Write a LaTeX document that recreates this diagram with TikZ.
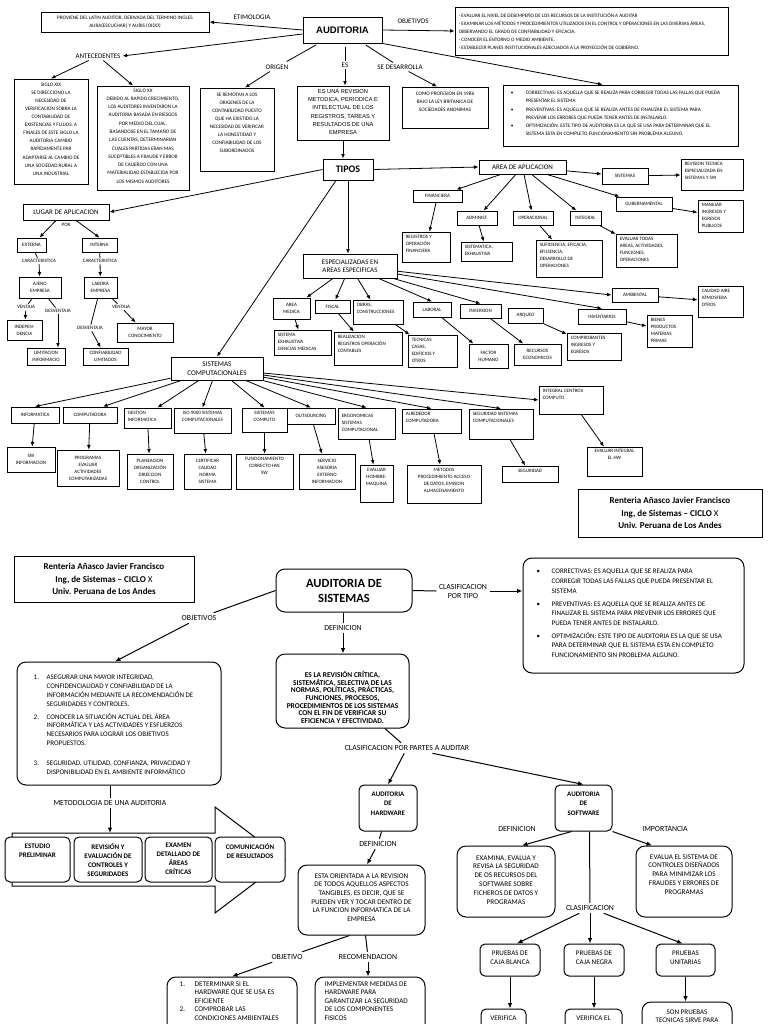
\documentclass[tikz,border=0pt]{standalone}
\usepackage{fontspec}
\setmainfont{Carlito}
\newfontfamily\arialf{Liberation Sans}
\usetikzlibrary{arrows.meta}
\newcommand\fsz[2]{\fontsize{#1}{#2}\selectfont}
\newcommand\bx[9]{%
  \node[#6, minimum width={(#4-#2)*1pt}, minimum height={(#5-#3)*1pt}] (#1) at ({(#2+#4)/2},{(#3+#5)/2}) {};
  \node[anchor=#7, pad #7, #8] (#1t) at (#1.#7) {#9};}
\newcommand\itm[2]{\makebox[#1][l]{#2}}
\tikzset{
  bx/.style={draw, line width=0.9pt, inner sep=0pt, fill=white},
  rbx/.style={draw, line width=1pt, rounded corners=9pt, inner sep=0pt, fill=white},
  rbs/.style={draw, line width=1pt, rounded corners=5pt, inner sep=0pt, fill=white},
  pad north/.style={yshift=-4pt},
  pad north west/.style={xshift=4pt, yshift=-4pt},
  pad center/.style={},
  tx/.style={inner sep=0pt, align=center, font=\fsz{5.2}{8.2}},
  txl/.style={inner sep=0pt, align=left, font=\fsz{5.2}{8.2}},
  ts/.style={inner sep=0pt, align=center, font=\fsz{5}{7}},
  tsl/.style={inner sep=0pt, align=left, font=\fsz{5}{7}},
  tm/.style={inner sep=0pt, align=center, font=\fsz{7}{8.5}},
  lt/.style={inner sep=2pt, font=\fsz{7}{8}},
  ls/.style={inner sep=1.5pt, font=\fsz{5}{6}},
  lb/.style={inner sep=2.5pt, align=center, font=\fsz{7.8}{9}},
  bt/.style={inner sep=0pt, align=center, font=\fsz{7.2}{8.8}},
  btl/.style={inner sep=0pt, align=left, font=\fsz{7.2}{8.8}},
  btb/.style={inner sep=0pt, align=center, font=\bfseries\fsz{7.2}{9}},
  authf/.style={inner sep=0pt, align=center, font=\bfseries\fsz{9}{12.5}},
  arr/.style={line width=0.8pt, -{Latex[length=4.5pt,width=3.8pt]}},
  arrb/.style={line width=1pt, -{Latex[length=5.5pt,width=4.5pt]}},
  ln/.style={line width=0.8pt},
  lnb/.style={line width=1pt},
}
\begin{document}
\begin{tikzpicture}[x=1pt,y=-1pt]
\useasboundingbox (0,0) rectangle (768,1024);
\fill[white] (0,0) rectangle (768,1024);
\clip (0,0) rectangle (768,1024);

% ================= TOP MAP =================
\bx{aud}{303}{17}{382}{43}{bx}{center}{inner sep=0pt, font=\arialf\bfseries\fsz{9.5}{11}}{AUDITORIA}
\bx{prov}{41}{12}{209}{32}{bx}{center}{tx, font=\fsz{5.2}{8}}{PROVIENE DEL LATIN AUDITOR, DERIVADA DEL TERMINO INGLES\\AURA(ESCUCHAR) Y AURIS (OIDO)}
\bx{obj}{455}{7}{728}{55}{bx}{north west}{txl, yshift=-2.3pt, font=\fsz{5.1}{8}}{- EVALUAR EL NIVEL DE DESEMPEÑO DE LOS RECURSOS DE LA INSTITUCIÓN A AUDITAR\\- EXAMINAR LOS MÉTODOS Y PROCEDIMIENTOS UTILIZADOS EN EL CONTROL Y OPERACIONES EN LAS DIVERSAS ÁREAS,\\OBSERVANDO EL GRADO DE CONFIABILIDAD Y EFICACIA.\\- CONOCER EL ENTORNO O MEDIO AMBIENTE.\\- ESTABLECER PLANES INSTITUCIONALES ADECUADOS A LA PROYECCIÓN DE GOBIERNO.}
\bx{xix}{14}{79}{88}{184}{bx}{north}{tx, font=\fsz{5.2}{8.1}}{SIGLO XIX\\SE DIRECCIONO LA\\NECESIDAD DE\\VERIFICACION SOBRA LA\\CONTABILIDAD DE\\EXISTENCIAS Y FLUJOS. A\\FINALES DE ESTE SIGLO LA\\AUDITORIA CAMBIO\\RAPIDAMENTE PAR\\ADAPTARSE AL CAMBIO DE\\UNA SOCIEDAD RURAL A\\UNA INDUSTRIAL}
\bx{xx}{97}{86}{189}{190}{bx}{north}{tx, yshift=1pt, font=\fsz{5.2}{8.27}}{SIGLO XX\\DEBIDO AL RAPIDO CRECIMIENTO,\\LOS AUDITORES INVENTARON LA\\AUDITORIA BASADA EN RIESGOS\\POR MEDIO DEL CUAL,\\BASANDOSE EN EL TAMAÑO DE\\LAS CUENTAS, DETERMINARIAN\\CUALES PARTIDAS ERAN MAS\\SUCEPTIBLES A FRAUDE Y ERROR\\DE CAUERDO CON UNA\\MATERIALIDAD ESTABLECIDA POR\\LOS MISMOS AUDITORES}
\bx{orig}{200}{88}{274}{171}{bx}{north}{tx, yshift=-1.3pt, font=\fsz{5.2}{8}}{SE REMOTAN A LOS\\ORIGENES DE LA\\CONTABILIDAD PUESTO\\QUE HA EXISTIDO LA\\NECESIDAD DE VERIFICAR\\LA HONESTIDAD Y\\CONFIABILIDAD DE LOS\\SUBORDINADOS}
\bx{esb}{297}{86}{389}{140}{bx}{north}{tx, yshift=0pt, font=\arialf\fsz{5.7}{8.1}}{ES UNA REVISION\\METODICA, PERIODICA E\\INTELECTUAL DE LOS\\REGISTROS, TAREAS Y\\RESULTADOS DE UNA\\EMPRESA}
\bx{des}{402}{87}{488}{128}{bx}{north}{tx, yshift=-1.6pt, font=\fsz{5.2}{7.9}}{COMO PROFESION EN 1986\\BAJO LA LEY BRITANICA DE\\SOCIEDADES ANONIMAS}
\bx{cor}{503}{85}{738}{146}{bx}{north west}{txl, xshift=4pt, yshift=-2.6pt, font=\fsz{5.2}{8.2}}{\itm{15pt}{\textbullet}CORRECTIVAS: ES AQUELLA QUE SE REALIZA PARA CORREGIR TODAS LAS FALLAS QUE PUEDA\\\hspace*{15pt}PRESENTAR EL SISTEMA\\\itm{15pt}{\textbullet}PREVENTIVAS: ES AQUELLA QUE SE REALIZA ANTES DE FINALIZAR EL SISTEMA PARA\\\hspace*{15pt}PREVENIR LOS ERRORES QUE PUEDA TENER ANTES DE INSTALARLO.\\\itm{15pt}{\textbullet}OPTIMIZACIÓN: ESTE TIPO DE AUDITORIA ES LA QUE SE USA PARA DETERMINAR QUE EL\\\hspace*{15pt}SISTEMA ESTA EN COMPLETO FUNCIONAMIENTO SIN PROBLEMA ALGUNO.}
\bx{tipos}{323}{159}{373}{180}{bx}{center}{inner sep=0pt, font=\bfseries\fsz{10}{11}}{TIPOS}
\bx{lugar}{23}{204}{109}{220}{bx}{center}{tm}{LUGAR DE APLICACION}
\bx{area}{479}{160}{566}{174}{bx}{center}{tm}{AREA DE APLICACION}
\bx{espe}{303}{254}{397}{278}{bx}{center}{tm, font=\fsz{7}{8.4}}{ESPECIALIZADAS EN\\AREAS ESPECIFICAS}
\bx{sisc}{171}{357}{263}{380}{bx}{center}{tm, font=\fsz{7.2}{8.6}}{SISTEMAS\\COMPUTACIONALES}

% lugar subtree
\bx{ext}{17}{238}{46}{252}{bx}{center}{ts}{EXTERNA}
\bx{int}{82}{238}{117}{252}{bx}{center}{ts}{INTERNA}
\bx{ajeno}{19}{277}{61}{298}{bx}{center}{ts}{AJENO\\EMPRESA}
\bx{labora}{84}{277}{117}{298}{bx}{center}{ts}{LABORA\\EMPRESA}
\bx{indep}{7}{320}{42}{340}{bx}{center}{ts}{INDEPEN-\\DENCIA}
\bx{limit}{27}{348}{65}{365}{bx}{center}{ts}{LIMITACION\\INFORMACIO}
\bx{confl}{83}{348}{128}{365}{bx}{center}{ts}{CONFIABILIDAD\\LIMITADOS}
\bx{mayor}{117}{323}{173}{342}{bx}{center}{ts}{MAYOR\\CONOCIMIENTO}

% area subtree
\bx{fin}{413}{190}{462}{202}{bx}{center}{ts}{FINANCIERA}
\bx{reg}{402}{232}{450}{262}{bx}{north west}{tsl}{REGISTROS Y\\OPERACIÓN\\FINANCIERA}
\bx{adm}{457}{211}{497}{225}{bx}{center}{ts}{ADMINIST.}
\bx{sist}{461}{242}{512}{261}{bx}{north west}{tsl}{SISTEMATICA,\\EXHAUSTIVA}
\bx{oper}{513}{211}{553}{225}{bx}{center}{ts}{OPERACIONAL}
\bx{sufi}{536}{240}{602}{277}{bx}{north west}{tsl}{SUFICIENCIA, EFICACIA,\\EFICIENCIA,\\DESARROLLO DE\\OPERACIONES}
\bx{integ}{570}{211}{601}{225}{bx}{center}{ts}{INTEGRAL}
\bx{evtod}{616}{234}{677}{267}{bx}{north west}{tsl}{EVALUAR TODAS\\AREAS, ACTIVIDADES,\\FUNCIONES,\\OPERACIONES}
\bx{sisa}{602}{168}{648}{184}{bx}{center}{ts}{SISTEMAS}
\bx{revt}{681}{159}{743}{190}{bx}{north west}{tsl}{REVISION TECNICA\\ESPECIALIZADA EN\\SISTEMAS Y SW}
\bx{gub}{616}{197}{672}{211}{bx}{center}{ts}{GUBERNAMENTAL}
\bx{manej}{698}{200}{743}{232}{bx}{north west}{tsl}{MANEJAR\\INGRESOS Y\\EGRESOS\\PUBLICOS}

% especializadas subtree
\bx{amed}{273}{298}{310}{319}{bx}{center}{ts}{AREA\\MEDICA}
\bx{sexh}{274}{330}{331}{355}{bx}{north west}{tsl}{SISTEMA\\EXHAUSTIVA\\CIENCIAS MEDICAS}
\bx{fisc}{315}{300}{350}{313}{bx}{center}{ts}{FISCAL}
\bx{reali}{334}{332}{402}{365}{bx}{north west}{tsl}{REALIZACION\\REGISTROS OPERACIÓN\\CONTABLES}
\bx{obras}{353}{300}{403}{324}{bx}{north west}{tsl}{OBRAS,\\CONSTRUCCIONES}
\bx{tecn}{408}{335}{457}{367}{bx}{north west}{tsl}{TECNICAS\\CASAS,\\EDIFICIOS Y\\OTROS}
\bx{labo}{413}{302}{451}{317}{bx}{center}{ts}{LABORAL}
\bx{fact}{469}{344}{508}{368}{bx}{center}{ts}{FACTOR\\HUMANO}
\bx{inve}{460}{304}{501}{318}{bx}{center}{ts}{INVERSION}
\bx{recu}{514}{344}{561}{365}{bx}{center}{ts}{RECURSOS\\ECONOMICOS}
\bx{arqu}{508}{308}{543}{323}{bx}{center}{ts}{ARQUEO}
\bx{comp}{567}{333}{621}{360}{bx}{north west}{tsl}{COMPROBANTES\\INGRESOS Y\\EGRESOS}
\bx{inven}{578}{309}{626}{324}{bx}{center}{ts}{INVENTARIOS}
\bx{bien}{647}{315}{692}{347}{bx}{north west}{tsl}{BIENES\\PRODUCTOS\\MATERIAS\\PRIMAS}
\bx{ambi}{612}{288}{658}{302}{bx}{center}{ts}{AMBIENTAL}
\bx{cali}{698}{286}{743}{317}{bx}{north west}{tsl}{CALIDAD AIRE\\ATMOSFERA\\OTROS}

% sistemas computacionales subtree
\bx{sinf}{11}{407}{59}{423}{bx}{center}{ts}{INFORMATICA}
\bx{swinf}{7}{447}{55}{472}{bx}{center}{ts}{SW\\INFORMACION}
\bx{scomp}{63}{407}{117}{423}{bx}{center}{ts}{COMPUTADORA}
\bx{prog}{57}{450}{119}{486}{bx}{center}{ts}{PROGRAMAS\\EVALUAR\\ACTIVIDADES\\COMPUTARIZADAS}
\bx{gest}{124}{408}{171}{428}{bx}{north west}{tsl}{GESTION\\INFORMATICA}
\bx{plan}{127}{454}{173}{489}{bx}{center}{ts}{PLANEACION\\ORGANIZACIÓN\\DIRECCION\\CONTROL}
\bx{iso}{174}{408}{231}{433}{bx}{north}{ts}{ISO 9000 SISTEMAS\\COMPUTACIONALES}
\bx{cert}{184}{454}{231}{489}{bx}{center}{ts}{CERTIFICAR\\CALIDAD\\NORMA\\SISTEMA}
\bx{scmp}{242}{408}{287}{432}{bx}{north}{ts}{SISTEMAS\\COMPUTO}
\bx{func}{236}{454}{293}{489}{bx}{north}{ts}{FUNCIONAMIENTO\\CORRECTO HW,\\SW}
\bx{outs}{287}{408}{335}{424}{bx}{center}{ts}{OUTSOURCING}
\bx{serv}{299}{454}{355}{489}{bx}{center}{ts}{SERVICIO\\ASESORIA\\EXTERNO\\INFORMACION}
\bx{ergo}{338}{408}{395}{439}{bx}{north west}{tsl, yshift=-3pt}{ERGONOMICAS\\SISTEMAS\\COMPUTACIONAL}
\bx{evhm}{360}{465}{393}{502}{bx}{north}{ts}{EVALUAR\\HOMBRE-\\MAQUINA}
\bx{alre}{402}{409}{461}{433}{bx}{north west}{tsl}{ALREDEDOR\\COMPUTADORA}
\bx{meto}{407}{465}{481}{503}{bx}{north}{ts}{METODOS\\PROCEDIMIENTO ACCESO\\DE DATOS, EMISION\\ALMACENAMIENTO}
\bx{segs}{469}{409}{533}{439}{bx}{north west}{tsl}{SEGURIDAD SISTEMAS\\COMPUTACIONALES}
\bx{segu}{502}{466}{558}{482}{bx}{north}{ts}{SEGURIDAD}
\bx{intc}{539}{386}{603}{414}{bx}{north west}{tsl}{INTEGRAL CENTROS\\COMPUTO}
\bx{evint}{587}{447}{642}{476}{bx}{north}{ts, yshift=1pt}{EVALUAR INTEGRAL\\EL HW}

\bx{auth1}{578}{489}{762}{537}{bx}{center}{authf}{Renteria Añasco Javier Francisco\\Ing, de Sistemas – CICLO {\mdseries X}\\Univ. Peruana de Los Andes}

% top labels
\node[lt] (etlbl) at (252,17) {ETIMOLOGIA};
\node[lt] (antlbl) at (98,56) {ANTECEDENTES};
\node[lt] (objlbl) at (413,21) {OBJETIVOS};
\node[lt] (origlbl) at (277,67) {ORIGEN};
\node[lt] (eslbl) at (345,65) {ES};
\node[lt] (deslbl) at (400,67) {SE DESARROLLA};
\node[ls] (por) at (66,225) {POR};
\node[ls] (car1) at (39,261) {CARACTERISTICA};
\node[ls] (car2) at (100,261) {CARACTERISTICA};
\node[ls] (ven1) at (26,307) {VENTAJA};
\node[ls] (des1) at (58,311) {DESVENTAJA};
\node[ls] (des2) at (90,328) {DESVENTAJA};
\node[ls] (ven2) at (121,307) {VENTAJA};

% top connectors
\draw[arr] (aud.west) -- (prov.east);
\draw[arr] ([yshift=-4pt]aud.west) -- (antlbl.east);
\draw[arr] (antlbl) -- (xix.north);
\draw[arr] (antlbl) -- ([xshift=-10pt]xx.north);
\draw[arr] (aud.east) -- (obj.west);
\draw[ln, shorten <=3pt, shorten >=2pt] (aud) -- (origlbl);
\draw[arr] (origlbl) -- ([xshift=8pt]orig.north);
\draw[ln, shorten <=4pt] (aud.south -| eslbl) -- (eslbl);
\draw[arr] (eslbl) -- (eslbl |- esb.north);
\draw[ln, shorten <=3pt] (aud) -- (deslbl);
\draw[arr] (deslbl) -- ([xshift=-8pt]des.north);
\draw[arr] (aud.south east) -- ([xshift=-18pt]cor.north);
\draw[arr] (esb.south) -- (esb.south |- tipos.north);
\draw[arr] (tipos.west) -- (lugar.east);
\draw[arr] (tipos.east) -- (area.west);
\draw[arr] (tipos.south) -- (tipos.south |- espe.north);
\draw[arr] ([xshift=-12pt]tipos.south) -- (sisc.north);

\draw[arr] ([xshift=-10pt]lugar.south) -- ([xshift=8pt]ext.north);
\draw[arr] ([xshift=10pt]lugar.south) -- (int.north);
\draw[ln] (ext) -- (car1);
\draw[arr] (car1) -- (ajeno);
\draw[ln] (int) -- (car2);
\draw[arr] (car2) -- (labora);
\draw[ln] (ajeno) -- (ven1);
\draw[arr] (ven1) -- (indep);
\draw[ln] (ajeno) -- (des1);
\draw[arr] (des1) -- ([xshift=12pt]limit.north);
\draw[ln] (labora) -- (des2);
\draw[arr] (des2) -- (confl);
\draw[ln] (labora) -- (ven2);
\draw[arr] (ven2) -- (mayor);

\draw[arr] (area) -- (fin);
\draw[arr] (area) -- (adm);
\draw[arr] (area) -- (oper);
\draw[arr] (area) -- (integ);
\draw[arr] (area) -- (sisa);
\draw[arr] (area) -- (gub);
\draw[arr] (fin) -- (reg);
\draw[arr] (adm) -- (sist);
\draw[arr] (oper) -- (sufi);
\draw[arr] (integ) -- (evtod);
\draw[arr] (sisa) -- (revt);
\draw[arr] (gub) -- (manej);

\draw[arr] (espe) -- (amed);
\draw[arr] (espe) -- (fisc);
\draw[arr] (espe) -- (obras);
\draw[arr] (espe) -- (labo.north);
\draw[arr] (espe) -- (inve.north);
\draw[arr] (espe) -- (inven.north);
\draw[arr] (espe) -- (ambi.west);
\draw[arr] (amed) -- (sexh);
\draw[arr] (fisc) -- (reali);
\draw[arr] (obras) -- (tecn);
\draw[arr] (labo) -- (fact);
\draw[arr] (inve) -- (recu);
\draw[arr] (arqu) -- (comp);
\draw[arr] (inven) -- (bien);
\draw[arr] (ambi) -- (cali);

\draw[arr] (sisc) -- (sinf.north);
\draw[arr] (sisc) -- ([xshift=13pt]scomp.north);
\draw[arr] (sisc) -- ([xshift=10pt]gest.north);
\draw[arr] (sisc) -- (iso.north);
\draw[arr] (sisc) -- (scmp.north);
\draw[arr] (sisc) -- (outs.north);
\draw[arr] (sisc) -- (ergo.north);
\draw[arr] (sisc) -- (alre.north);
\draw[arr] (sisc) -- (segs.north);
\draw[arr] (sisc) -- (intc.west);
\draw[arr] (sinf) -- (swinf);
\draw[arr] (scomp) -- (prog);
\draw[arr] (gest) -- (plan);
\draw[arr] (iso) -- (cert);
\draw[arr] (scmp) -- (func);
\draw[arr] (outs) -- (serv);
\draw[arr] (ergo) -- (evhm);
\draw[arr] (alre) -- (meto);
\draw[arr] (segs) -- (segu);
\draw[arr] (intc) -- (evint);

% ================= BOTTOM MAP =================
\bx{auth2}{14}{556}{194}{602}{bx}{center}{authf}{Renteria Añasco Javier Francisco\\Ing, de Sistemas – CICLO {\mdseries X}\\Univ. Peruana de Los Andes}
\bx{ads}{276}{569}{412}{612}{rbx}{center}{inner sep=0pt, align=center, font=\bfseries\fsz{12.5}{15}}{AUDITORIA DE\\SISTEMAS}
\bx{obj2}{17}{662}{221}{785}{rbx}{north west}{btl, xshift=13pt, yshift=-9.7pt, font=\fsz{7}{8.8}}{\itm{13pt}{1.}ASEGURAR UNA MAYOR INTEGRIDAD,\\\hspace*{13pt}CONFIDENCIALIDAD Y CONFIABILIDAD DE LA\\\hspace*{13pt}INFORMACIÓN MEDIANTE LA RECOMENDACIÓN DE\\\hspace*{13pt}SEGURIDADES Y CONTROLES.\\[4pt]\itm{13pt}{2.}CONOCER LA SITUACIÓN ACTUAL DEL ÁREA\\\hspace*{13pt}INFORMÁTICA Y LAS ACTIVIDADES Y ESFUERZOS\\\hspace*{13pt}NECESARIOS PARA LOGRAR LOS OBJETIVOS\\\hspace*{13pt}PROPUESTOS.\\[11pt]\itm{13pt}{3.}SEGURIDAD, UTILIDAD, CONFIANZA, PRIVACIDAD Y\\\hspace*{13pt}DISPONIBILIDAD EN EL AMBIENTE INFORMÁTICO}
\bx{tipo2}{523}{558}{744}{673}{rbx}{north west}{btl, xshift=10pt, yshift=-7.7pt, font=\fsz{7}{9.7}}{\itm{15pt}{\textbullet}CORRECTIVAS: ES AQUELLA QUE SE REALIZA PARA\\\hspace*{15pt}CORREGIR TODAS LAS FALLAS QUE PUEDA PRESENTAR EL\\\hspace*{15pt}SISTEMA\\[3pt]\itm{15pt}{\textbullet}PREVENTIVAS: ES AQUELLA QUE SE REALIZA ANTES DE\\\hspace*{15pt}FINALIZAR EL SISTEMA PARA PREVENIR LOS ERRORES QUE\\\hspace*{15pt}PUEDA TENER ANTES DE INSTALARLO.\\[3pt]\itm{15pt}{\textbullet}OPTIMIZACIÓN: ESTE TIPO DE AUDITORIA ES LA QUE SE USA\\\hspace*{15pt}PARA DETERMINAR QUE EL SISTEMA ESTA EN COMPLETO\\\hspace*{15pt}FUNCIONAMIENTO SIN PROBLEMA ALGUNO.}
\bx{defb}{276}{654}{409}{728}{rbx}{north}{btb, yshift=-13.5pt, font=\bfseries\fsz{7.4}{7.7}}{ES LA REVISIÓN CRÍTICA,\\SISTEMÁTICA, SELECTIVA DE LAS\\NORMAS, POLÍTICAS, PRÁCTICAS,\\FUNCIONES, PROCESOS,\\PROCEDIMIENTOS DE LOS SISTEMAS\\CON EL FIN DE VERIFICAR SU\\EFICIENCIA Y EFECTIVIDAD.}

% methodology block arrow
\draw[line width=1pt, fill=white] (12,833) -- (215,833) -- (215,807) -- (285,860) -- (215,913) -- (215,886) -- (12,886) -- cycle;
\coordinate (metotop) at (110,833);
\bx{m1}{5}{837}{70}{882}{rbs}{north}{btb, yshift=-2.7pt, font=\bfseries\fsz{7}{9}}{ESTUDIO\\PRELIMINAR}
\bx{m2}{74}{837}{142}{882}{rbs}{north}{btb, yshift=-2.7pt, font=\bfseries\fsz{7}{9}}{REVISIÓN Y\\EVALUACIÓN DE\\CONTROLES Y\\SEGURIDADES}
\bx{m3}{145}{837}{212}{882}{rbs}{north}{btb, yshift=-2.7pt, font=\bfseries\fsz{7}{9}}{EXAMEN\\DETALLADO DE\\ÁREAS\\CRÍTICAS}
\bx{m4}{215}{837}{285}{882}{rbs}{north}{btb, yshift=-2.7pt, font=\bfseries\fsz{7}{9}}{COMUNICACIÓN\\DE RESULTADOS}

\bx{hw}{359}{785}{417}{831}{rbs}{north}{btb, yshift=-2.8pt, font=\bfseries\fsz{6.9}{9.5}}{AUDITORIA\\DE\\HARDWARE}
\bx{sw}{555}{785}{612}{831}{rbs}{north}{btb, yshift=-2.8pt, font=\bfseries\fsz{6.9}{9.5}}{AUDITORIA\\DE\\SOFTWARE}
\bx{hwdef}{298}{865}{425}{935}{rbx}{north}{bt, yshift=-4.7pt, font=\fsz{7.2}{8.7}}{ESTA ORIENTADA A LA REVISION\\DE TODOS AQUELLOS ASPECTOS\\TANGIBLES, ES DECIR, QUE SE\\PUEDEN VER Y TOCAR DENTRO DE\\LA FUNCION INFORMATICA DE LA\\EMPRESA}
\bx{hwobj}{167}{977}{297}{1045}{rbx}{north west}{btl, xshift=9pt, yshift=-0.8pt, font=\fsz{7.2}{8.5}}{\itm{15pt}{1.}DETERMINAR SI EL\\\hspace*{15pt}HARDWARE QUE SE USA ES\\\hspace*{15pt}EFICIENTE\\\itm{15pt}{2.}COMPROBAR LAS\\\hspace*{15pt}CONDICIONES AMBIENTALES}
\bx{hwrec}{315}{977}{425}{1045}{rbx}{north west}{btl, xshift=6pt, yshift=-0.8pt, font=\fsz{7.2}{8.5}}{IMPLEMENTAR MEDIDAS DE\\HARDWARE PARA\\GARANTIZAR LA SEGURIDAD\\DE LOS COMPONENTES\\FISICOS}
\bx{swdef}{457}{846}{555}{917}{rbx}{north}{bt, yshift=-5.7pt, font=\fsz{7.2}{8.8}}{EXAMINA, EVALUA Y\\REVISA LA SEGURIDAD\\DE OS RECURSOS DEL\\SOFTWARE SOBRE\\FICHEROS DE DATOS Y\\PROGRAMAS}
\bx{imp}{636}{846}{732}{917}{rbx}{north}{bt, yshift=-4.7pt, font=\fsz{7.2}{8.8}}{EVALUA EL SISTEMA DE\\CONTROLES DISEÑADOS\\PARA MINIMIZAR LOS\\FRAUDES Y ERRORES DE\\PROGRAMAS}
\bx{pb1}{480}{944}{540}{976}{rbs}{north}{bt, yshift=-2.7pt, font=\fsz{7.1}{9}}{PRUEBAS DE\\CAJA BLANCA}
\bx{pb2}{564}{944}{624}{976}{rbs}{north}{bt, yshift=-2.7pt, font=\fsz{7.1}{9}}{PRUEBAS DE\\CAJA NEGRA}
\bx{pb3}{656}{944}{715}{976}{rbs}{north}{bt, yshift=-2.7pt, font=\fsz{7.1}{9}}{PRUEBAS\\UNITARIAS}
\bx{ver1}{481}{1009}{526}{1050}{rbs}{north}{bt, yshift=-2.7pt, font=\fsz{7.1}{9}}{VERIFICA}
\bx{ver2}{565}{1009}{622}{1050}{rbs}{north}{bt, yshift=-2.7pt, font=\fsz{7.1}{9}}{VERIFICA EL}
\bx{son}{642}{1002}{732}{1050}{rbx}{north}{bt, yshift=-3.7pt, font=\fsz{7.1}{8.5}}{SON PRUEBAS\\TECNICAS SIRVE PARA}

% bottom labels
\node[lb] (objlbl2) at (199,618) {OBJETIVOS};
\node[lb] (def1lbl) at (343,628) {DEFINICION};
\node[lb] (cptlbl) at (463,591) {CLASIFICACION\\POR TIPO};
\node[lb] (cpalbl) at (407,748) {CLASIFICACION POR PARTES A AUDITAR};
\node[lb] (metolbl) at (110,803) {METODOLOGIA DE UNA AUDITORIA};
\node[lb] (def2lbl) at (378,844) {DEFINICION};
\node[lb] (objhlbl) at (287,957) {OBJETIVO};
\node[lb] (reclbl) at (368,957) {RECOMENDACION};
\node[lb] (def3lbl) at (517,829) {DEFINICION};
\node[lb] (implbl) at (665,829) {IMPORTANCIA};
\node[lb] (clalbl) at (590,908) {CLASIFICACION};

% bottom connectors
\draw[lnb] (ads.west) -- (objlbl2);
\draw[arrb] (objlbl2) -- ([xshift=-4pt]obj2.north);
\draw[lnb] (ads.south -| def1lbl) -- (def1lbl);
\draw[arrb] (def1lbl) -- (def1lbl |- defb.north);
\draw[lnb] (ads.east) -- (cptlbl.west);
\draw[arrb] (cptlbl.east) -- (cptlbl.east -| tipo2.west);
\draw[lnb] (defb) -- (cpalbl);
\draw[arrb] (cpalbl) -- (hw.north);
\draw[arrb] (cpalbl) -- (sw.north);
\draw[lnb] (obj2.south -| metolbl) -- (metolbl);
\draw[arrb] (metolbl) -- (metotop);
\draw[lnb] (hw) -- (def2lbl);
\draw[arrb] (def2lbl) -- ([xshift=5.5pt]hwdef.north);
\draw[lnb] ([xshift=-12pt]hwdef.south) -- (objhlbl);
\draw[arrb] (objhlbl) -- (hwobj.north);
\draw[lnb] (hwdef) -- (reclbl);
\draw[arrb] (reclbl) -- (reclbl |- hwrec.north);
\draw[arrb] ([xshift=-12pt]sw.south) -- ([xshift=16pt]swdef.north);
\draw[arrb] (sw.south east) -- ([xshift=-32pt]imp.north);
\draw[lnb] ([xshift=6pt]sw.south) -- (clalbl);
\draw[arrb] (clalbl) -- ([xshift=7pt]pb1.north);
\draw[arrb] (clalbl) -- ([xshift=-4pt]pb2.north);
\draw[arrb] (clalbl) -- ([xshift=-3pt]pb3.north);
\draw[arrb] (pb1.south) -- (pb1.south |- ver1.north);
\draw[arrb] (pb2.south) -- (pb2.south |- ver2.north);
\draw[arrb] (pb3.south) -- (pb3.south |- son.north);
\end{tikzpicture}
\end{document}
